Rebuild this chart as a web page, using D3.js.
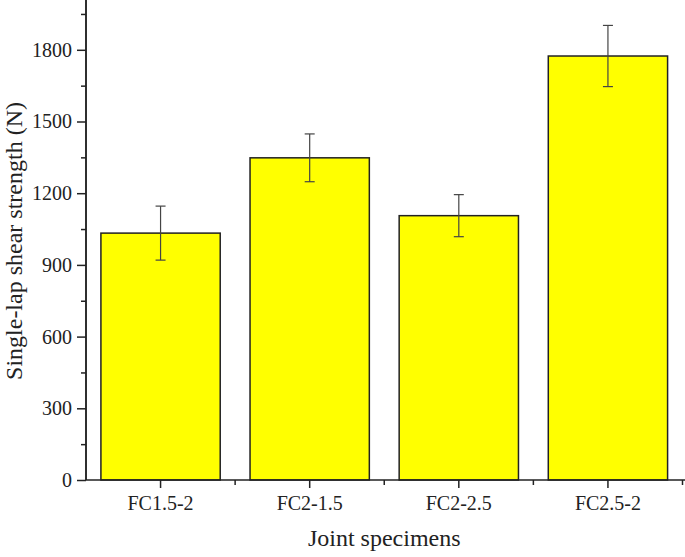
<!DOCTYPE html>
<html>
<head>
<meta charset="utf-8">
<script src="https://cdn.jsdelivr.net/npm/d3@7"></script>
<style>
  body { margin: 0; background: #fff; }
</style>
</head>
<body>
<svg width="685" height="557"></svg>
<script>
// data
var specimens = ["FC1.5-2", "FC2-1.5", "FC2-2.5", "FC2.5-2"];
var strength = [1033, 1348, 1106, 1774];
var errors = [113, 100, 88, 128];
var yTicks = [0, 300, 600, 900, 1200, 1500, 1800];

var serif = "'Liberation Serif', 'Times New Roman', Times, serif";

var svg = d3.select("svg"),
	width = +svg.attr("width"),
	height = +svg.attr("height");

// plot box (not "top": that name is taken by window.top)
var pLeft = 86, pRight = 682.5, pTop = 2, pBottom = 480;

var x = d3.scaleBand().domain(specimens).range([pLeft, pRight]).padding(0);
var y = d3.scaleLinear().domain([0, 2000]).range([pBottom, pTop]);

// bars
svg.append("g")
	.selectAll("rect")
	.data(specimens)
	.enter().append("rect")
	.attr("x", function (d) { return x(d) + x.bandwidth() * 0.1; })
	.attr("width", x.bandwidth() * 0.8)
	.attr("y", function (d, i) { return y(strength[i]); })
	.attr("height", function (d, i) { return y(0) - y(strength[i]); })
	.attr("fill", "#ffff00")
	.attr("stroke", "#222")
	.attr("stroke-width", 1.5);

// error bars
var err = svg.append("g").attr("stroke", "#444").attr("stroke-width", 1.2);
specimens.forEach(function (d, i) {
	var cx = x(d) + x.bandwidth() / 2;
	err.append("line").attr("x1", cx).attr("x2", cx)
		.attr("y1", y(strength[i] + errors[i])).attr("y2", y(strength[i] - errors[i]));
	err.append("line").attr("x1", cx - 5).attr("x2", cx + 5)
		.attr("y1", y(strength[i] + errors[i])).attr("y2", y(strength[i] + errors[i]));
	err.append("line").attr("x1", cx - 5).attr("x2", cx + 5)
		.attr("y1", y(strength[i] - errors[i])).attr("y2", y(strength[i] - errors[i]));
});

// y axis
var yAxis = svg.append("g").attr("transform", "translate(" + pLeft + ",0)");
yAxis.append("g").call(d3.axisLeft(y).tickValues(d3.range(150, 2000, 300)).tickSize(5).tickFormat(""));
yAxis.append("g").call(d3.axisLeft(y).tickValues(yTicks).tickSize(9).tickPadding(5).tickFormat(d3.format("d")));
yAxis.selectAll(".domain").attr("d", "M0," + y(0) + "V0");
yAxis.selectAll("line, path").attr("stroke", "#222").attr("stroke-width", 1.5);
yAxis.selectAll("g").attr("font-family", null).attr("font-size", null);
yAxis.selectAll("text").style("font-size", "20px").style("font-family", serif).attr("fill", "#222");

// x axis
var xAxis = svg.append("g").attr("transform", "translate(0," + pBottom + ")");
xAxis.call(d3.axisBottom(x).tickSize(8).tickPadding(8));
xAxis.attr("font-family", null).attr("font-size", null);
xAxis.selectAll(".minor").data(specimens).enter().append("line")
	.attr("class", "minor")
	.attr("x1", function (d) { return x(d) + x.bandwidth(); })
	.attr("x2", function (d) { return x(d) + x.bandwidth(); })
	.attr("y1", 0).attr("y2", 5);
xAxis.select(".domain").attr("d", "M" + pLeft + ",0H685");
xAxis.selectAll("line, path").attr("stroke", "#222").attr("stroke-width", 1.5);
xAxis.selectAll("text").style("font-size", "20px").style("font-family", serif).attr("fill", "#222");

// axis titles
svg.append("text")
	.attr("x", (pLeft + pRight) / 2)
	.attr("y", 546)
	.attr("text-anchor", "middle")
	.style("font-family", serif)
	.style("font-size", "24px")
	.attr("fill", "#222")
	.text("Joint specimens");

svg.append("text")
	.attr("transform", "translate(22," + (pTop + pBottom) / 2 + ") rotate(-90)")
	.attr("text-anchor", "middle")
	.style("font-family", serif)
	.style("font-size", "24px")
	.attr("fill", "#222")
	.text("Single-lap shear strength (N)");
</script>
</body>
</html>
